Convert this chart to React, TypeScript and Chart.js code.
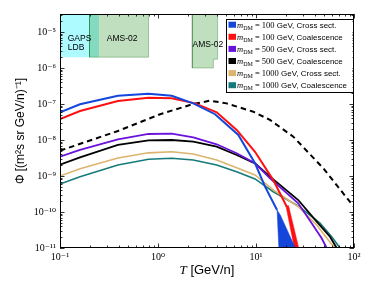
import React, { useEffect, useRef } from 'react';
import { Chart, registerables } from 'chart.js';
Chart.register(...registerables);

// ---------- data ----------
const X_DECADES = [0.1, 1, 10, 100];
const Y_DECADES = [1e-11, 1e-10, 1e-9, 1e-8, 1e-7, 1e-6, 1e-5];
const X_MIN = 0.1;
const X_MAX = 100;
const Y_MIN = 1e-11;
const Y_MAX = 3.162e-5;

const T_BLUE = [0.1, 0.16, 0.39, 0.8, 1.38, 2.29, 3.82, 6.6, 9.77, 12.4, 16.4];
const PHI_BLUE = [5.9e-8, 9.8e-8, 1.7e-7, 1.93e-7, 1.7e-7, 1.04e-7, 5.2e-8, 1.38e-8, 2.25e-9, 5.0e-10, 1.14e-10];
const T_BLUE_BAND = [16.4, 17.7, 25.2, 17.1, 16.4];
const PHI_BLUE_BAND = [1.14e-10, 8.3e-11, 1e-11, 1e-11, 1.14e-10];

const T_RED = [0.1, 0.16, 0.39, 0.8, 1.38, 2.39, 3.97, 6.35, 9.77, 15.0, 20.6];
const PHI_RED = [3.83e-8, 6.4e-8, 1.21e-7, 1.5e-7, 1.44e-7, 1.04e-7, 5.9e-8, 1.9e-8, 4.7e-9, 7.7e-10, 1.4e-10];
const T_RED_BAND = [20.2, 21.5, 27.3, 24.6, 20.2];
const PHI_RED_BAND = [1.5e-10, 1.5e-10, 1e-11, 1e-11, 1.5e-10];

const T_PURPLE = [0.1, 0.16, 0.39, 0.8, 1.38, 2.29, 3.97, 6.35, 9.77, 13.9, 27, 37, 46.8, 52.6];
const PHI_PURPLE = [3.43e-9, 5.3e-9, 1.04e-8, 1.47e-8, 1.5e-8, 1.19e-8, 7.6e-9, 4.3e-9, 2.25e-9, 8.6e-10, 1.75e-10, 4.9e-11, 1.86e-11, 1e-11];

const T_BLACK = [0.1, 0.16, 0.39, 0.8, 1.38, 2.29, 3.97, 6.35, 9.77, 13.9, 27, 41.6, 56.9, 66.6];
const PHI_BLACK = [2.06e-9, 3.3e-9, 7.3e-9, 9.8e-9, 1.0e-8, 8.97e-9, 6.5e-9, 3.83e-9, 2.25e-9, 9.6e-10, 2.15e-10, 5.4e-11, 2.06e-11, 1e-11];

const T_GOLD = [0.1, 0.16, 0.39, 0.8, 1.38, 2.29, 3.97, 6.35, 9.77, 15.0, 27, 41.6, 54.7, 64];
const PHI_GOLD = [1.0e-9, 1.6e-9, 3.16e-9, 4.4e-9, 4.7e-9, 4.1e-9, 2.78e-9, 1.7e-9, 1.07e-9, 4.1e-10, 1.4e-10, 4.35e-11, 1.67e-11, 1e-11];

const T_TEAL = [0.1, 0.16, 0.39, 0.8, 1.38, 2.29, 3.97, 6.35, 9.77, 15.0, 27, 45, 59.2, 72];
const PHI_TEAL = [6.0e-10, 9.6e-10, 2.02e-9, 2.91e-9, 3.1e-9, 2.78e-9, 2.02e-9, 1.31e-9, 8.3e-10, 3.66e-10, 1.47e-10, 4.9e-11, 2.06e-11, 1e-11];

const T_BKG = [0.1, 0.39, 1.05, 2.29, 3.4, 5.0, 9.4, 13.9, 24, 48.6, 100];
const PHI_BKG = [5.05e-9, 1.78e-8, 5.2e-8, 1.0e-7, 1.24e-7, 1.04e-7, 6.1e-8, 3.6e-8, 1.24e-8, 1.64e-9, 1.38e-10];

// sensitivity regions
const T_GAPS = [0.1, 0.25, 0.25, 0.1, 0.1];
const PHI_GAPS = [2e-6, 2e-6, Y_MAX, Y_MAX, 2e-6];
const T_AMS_LOW = [0.2, 0.8, 0.8, 0.2, 0.2];
const PHI_AMS_LOW = [2e-6, 2e-6, Y_MAX, Y_MAX, 2e-6];
const T_AMS_HIGH = [2.24, 2.24, 3.67, 3.67, 4.06, 4.06, 2.24];
const PHI_AMS_HIGH = [Y_MAX, 1e-6, 1e-6, 1.75e-6, 1.75e-6, Y_MAX, Y_MAX];

const REGION_TEXT = ['GAPS', 'LDB', 'AMS-02', 'AMS-02'];
const REGION_TEXT_T = [0.12, 0.12, 0.3, 2.25];
const REGION_TEXT_PHI = [6.4e-6, 3.6e-6, 6.4e-6, 4.5e-6];

const LEGEND_MASS = ['100', '100', '500', '500', '1000', '1000'];
const LEGEND_KIND = ['Cross sect.', 'Coalescence', 'Cross sect.', 'Coalescence', 'Cross sect.', 'Coalescence'];
const COLORS = ['#1446dc', '#ff1010', '#6a12dc', '#000000', '#dcb46e', '#167a7a'];

// ---------- helpers ----------
const SUP: Record<string, string> = { '-': '⁻', '0': '⁰', '1': '¹', '2': '²', '3': '³', '4': '⁴', '5': '⁵', '6': '⁶', '7': '⁷', '8': '⁸', '9': '⁹' };
const isPow = (v: number) => Math.abs(Math.log10(v) - Math.round(Math.log10(v))) < 1e-9;
const powLabel = (v: number) => '10' + String(Math.round(Math.log10(v))).split('').map((c) => SUP[c]).join('');
const pts = (xs: number[], ys: number[]) => xs.map((x, i) => ({ x, y: ys[i] }));
const buildTicks = (decades: number[], min: number, max: number) => {
  const out: { value: number }[] = [];
  decades.forEach((d) => {
    for (let m = 1; m <= 9; m++) {
      const v = d * m;
      if (v >= min * 0.999999 && v <= max * 1.000001) out.push({ value: v });
    }
  });
  return out;
};

const SERIF = '"Liberation Serif", "DejaVu Serif", serif';
const SANS = '"Liberation Sans", Arial, sans-serif';

const decorPlugin = {
  id: 'decor',
  afterDatasetsDraw(chart: any) {
    const { ctx, chartArea: a, scales } = chart;
    const xs = scales.x, ys = scales.y;
    ctx.save();
    // region labels
    ctx.fillStyle = '#000';
    ctx.font = `8.5px ${SANS}`;
    ctx.textBaseline = 'middle';
    ctx.textAlign = 'left';
    REGION_TEXT.forEach((t, i) => {
      ctx.fillText(t, xs.getPixelForValue(REGION_TEXT_T[i]), ys.getPixelForValue(REGION_TEXT_PHI[i]));
    });
    // inward ticks
    ctx.strokeStyle = '#000';
    ctx.lineWidth = 0.8;
    ctx.beginPath();
    xs.ticks.forEach((t: any) => {
      const p = Math.round(xs.getPixelForValue(t.value)) + 0.5;
      const len = isPow(t.value) ? 4.5 : 2.5;
      ctx.moveTo(p, a.bottom); ctx.lineTo(p, a.bottom - len);
      ctx.moveTo(p, a.top); ctx.lineTo(p, a.top + len);
    });
    ys.ticks.forEach((t: any) => {
      const p = Math.round(ys.getPixelForValue(t.value)) + 0.5;
      const len = isPow(t.value) ? 4.5 : 2.5;
      ctx.moveTo(a.left, p); ctx.lineTo(a.left + len, p);
      ctx.moveTo(a.right, p); ctx.lineTo(a.right - len, p);
    });
    ctx.stroke();
    // frame
    ctx.lineWidth = 1;
    ctx.strokeRect(a.left + 0.5, a.top + 0.5, a.right - a.left - 1, a.bottom - a.top - 1);
    // x title
    ctx.textBaseline = 'alphabetic';
    ctx.font = `italic 13px ${SERIF}`;
    const w1 = ctx.measureText('T').width;
    ctx.font = `13px ${SANS}`;
    const w2 = ctx.measureText(' [GeV/n]').width;
    const cx = (a.left + a.right) / 2 - (w1 + w2) / 2;
    ctx.font = `italic 13px ${SERIF}`;
    ctx.fillText('T', cx, a.bottom + 26);
    ctx.font = `13px ${SANS}`;
    ctx.fillText(' [GeV/n]', cx + w1, a.bottom + 26);
    ctx.restore();
  },
  afterDraw(chart: any) {
    const { ctx, chartArea: a } = chart;
    ctx.save();
    const lw = 126.5, lh = 72.5;
    const lx = a.right - 1.5 - lw, ly = a.top + 4.5;
    ctx.fillStyle = '#fff';
    ctx.fillRect(lx, ly, lw, lh);
    ctx.strokeStyle = '#000';
    ctx.lineWidth = 1;
    ctx.strokeRect(Math.round(lx) + 0.5, Math.round(ly) + 0.5, Math.round(lw), Math.round(lh));
    ctx.textBaseline = 'alphabetic';
    ctx.textAlign = 'left';
    LEGEND_MASS.forEach((m, i) => {
      const cy = ly + 6.2 + i * 12.1;
      ctx.fillStyle = COLORS[i];
      ctx.fillRect(lx + 2.5, cy - 3, 7.5, 6);
      ctx.fillStyle = '#000';
      let x = lx + 11;
      const base = cy + 3;
      ctx.font = `italic 8.5px ${SERIF}`;
      ctx.fillText('m', x, base); x += ctx.measureText('m').width;
      ctx.font = `6px ${SERIF}`;
      ctx.fillText('DM', x, base + 1.8); x += ctx.measureText('DM').width;
      ctx.font = `8.5px ${SERIF}`;
      const eq = ' = ' + m;
      ctx.fillText(eq, x, base); x += ctx.measureText(eq).width;
      ctx.font = `8px ${SANS}`;
      ctx.fillText(' GeV, ' + LEGEND_KIND[i], x, base);
    });
    ctx.restore();
  },
};

export default function App() {
  const ref = useRef<HTMLCanvasElement>(null);
  useEffect(() => {
    if (!ref.current) return;
    const line = (xs: number[], ys: number[], color: string, width: number, order: number, extra: any = {}) => ({
      data: pts(xs, ys), borderColor: color, backgroundColor: color, borderWidth: width,
      pointRadius: 0, fill: false, tension: 0, order, ...extra,
    });
    const chart = new Chart(ref.current, {
      type: 'line',
      data: {
        datasets: [
          line(T_GAPS, PHI_GAPS, 'rgba(0,0,0,0)', 0, 30, { fill: 'shape', backgroundColor: 'rgba(0,240,255,0.32)' }),
          line(T_AMS_LOW, PHI_AMS_LOW, 'rgba(0,100,0,0.3)', 1, 29, { fill: 'shape', backgroundColor: 'rgba(0,128,0,0.25)' }),
          line(T_AMS_HIGH, PHI_AMS_HIGH, 'rgba(0,100,0,0.3)', 1, 28, { fill: 'shape', backgroundColor: 'rgba(0,128,0,0.25)' }),
          line(T_BKG, PHI_BKG, '#000', 2, 20, { borderDash: [5.5, 4] }),
          line(T_TEAL, PHI_TEAL, COLORS[5], 1.6, 15),
          line(T_GOLD, PHI_GOLD, COLORS[4], 1.6, 14),
          line(T_BLACK, PHI_BLACK, COLORS[3], 1.8, 13),
          line(T_PURPLE, PHI_PURPLE, COLORS[2], 1.8, 12),
          line(T_RED_BAND, PHI_RED_BAND, COLORS[1], 0.5, 11, { fill: 'shape' }),
          line(T_RED, PHI_RED, COLORS[1], 2, 10),
          line(T_BLUE_BAND, PHI_BLUE_BAND, COLORS[0], 0.5, 9, { fill: 'shape' }),
          line(T_BLUE, PHI_BLUE, COLORS[0], 2, 8),
        ],
      },
      options: {
        animation: false,
        responsive: false,
        devicePixelRatio: 1,
        layout: { padding: { left: 0, top: 14, right: 20, bottom: 0 } },
        plugins: { legend: { display: false }, tooltip: { enabled: false } },
        scales: {
          x: {
            type: 'logarithmic', min: X_MIN, max: X_MAX,
            afterBuildTicks: (s: any) => { s.ticks = buildTicks(X_DECADES, X_MIN, X_MAX); },
            afterFit: (s: any) => { s.height = 45; },
            grid: { display: false, drawTicks: false, tickLength: 0 },
            border: { display: false },
            ticks: {
              autoSkip: false, maxRotation: 0, padding: 3, color: '#000',
              font: { family: SERIF, size: 10 },
              callback: (v: any) => (isPow(Number(v)) ? powLabel(Number(v)) : ''),
            },
          },
          y: {
            type: 'logarithmic', min: Y_MIN, max: Y_MAX,
            afterBuildTicks: (s: any) => { s.ticks = buildTicks(Y_DECADES, Y_MIN, Y_MAX); },
            afterFit: (s: any) => { s.width = 60; },
            grid: { display: false, drawTicks: false, tickLength: 0 },
            border: { display: false },
            title: {
              display: true, text: 'Φ [(m²s sr GeV/n)⁻¹]', color: '#000',
              font: { family: SANS, size: 12 }, padding: { top: 13, bottom: 0 },
            },
            ticks: {
              autoSkip: false, padding: 4, color: '#000',
              font: { family: SERIF, size: 10 },
              callback: (v: any) => (isPow(Number(v)) ? powLabel(Number(v)) : ''),
            },
          },
        },
      } as any,
      plugins: [decorPlugin],
    });
    return () => chart.destroy();
  }, []);
  return (
    <div style={{ position: 'fixed', left: 0, top: 0, width: 374, height: 293, background: '#fff' }}>
      <canvas ref={ref} width={374} height={293} style={{ display: 'block' }} />
    </div>
  );
}
